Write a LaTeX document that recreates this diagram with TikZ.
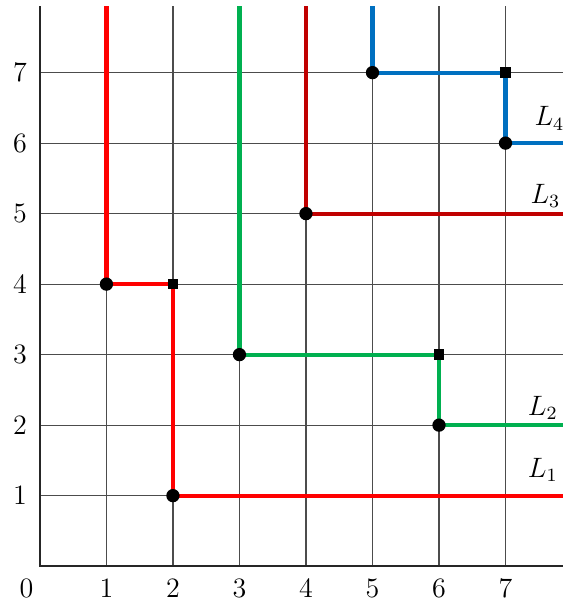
\documentclass[tikz,border=0pt]{standalone}
\usepackage{xcolor}
\definecolor{lineone}{RGB}{255,0,0}
\definecolor{linetwo}{RGB}{0,176,80}
\definecolor{linethree}{RGB}{192,0,0}
\definecolor{linefour}{RGB}{0,112,192}

\begin{document}
\begin{tikzpicture}[x=1cm, y=1.06cm, font=\large,
  gridline/.style={black!70, line width=0.5pt},
  staircase/.style={line width=1.8pt},
  dot/.style={circle, fill=black, inner sep=0pt, minimum size=0.2cm},
  sq/.style={rectangle, fill=black, inner sep=0pt, minimum size=0.16cm}]
\useasboundingbox (-0.6,-0.48) rectangle (7.86,8.03);
% grid and axes
\foreach \i in {1,...,7} {
  \draw[gridline] (\i,0) -- (\i,7.94);
  \draw[gridline] (0,\i) -- (7.86,\i);
}
\draw[black!85, line width=0.7pt] (7.86,0) -- (0,0) -- (0,7.94);
\node (origin) at (-0.2,-0.31) {0};
\foreach \i in {1,...,7} {
  \node (xlab\i) at (\i,-0.31) {\i};
  \node (ylab\i) at (-0.3,\i) {\i};
}
% top and right ends
\foreach \i in {1,...,5} \coordinate (top\i) at (\i,7.94);
\foreach \j in {1,2,5,6} \coordinate (end\j) at (7.86,\j);
% L1
\coordinate (p1) at (1,4);
\coordinate (q1) at (2,4);
\coordinate (r1) at (2,1);
\draw[staircase, lineone] (top1) -- (p1) -- (q1) -- (r1) -- (end1);
\node[dot] (d1) at (p1) {};
\node[sq] (s1) at (q1) {};
\node[dot] (e1) at (r1) {};
\node (lab1) at (7.56,1.36) {$L_1$};
% L2
\coordinate (p2) at (3,3);
\coordinate (q2) at (6,3);
\coordinate (r2) at (6,2);
\draw[staircase, linetwo] (top3) -- (p2) -- (q2) -- (r2) -- (end2);
\node[dot] (d2) at (p2) {};
\node[sq] (s2) at (q2) {};
\node[dot] (e2) at (r2) {};
\node (lab2) at (7.56,2.24) {$L_2$};
% L3
\coordinate (p3) at (4,5);
\draw[staircase, linethree] (top4) -- (p3) -- (end5);
\node[dot] (d3) at (p3) {};
\node (lab3) at (7.6,5.25) {$L_3$};
% L4
\coordinate (p4) at (5,7);
\coordinate (q4) at (7,7);
\coordinate (r4) at (7,6);
\draw[staircase, linefour] (top5) -- (p4) -- (q4) -- (r4) -- (end6);
\node[dot] (d4) at (p4) {};
\node[sq] (s4) at (q4) {};
\node[dot] (e4) at (r4) {};
\node (lab4) at (7.66,6.35) {$L_4$};
\end{tikzpicture}
\end{document}
